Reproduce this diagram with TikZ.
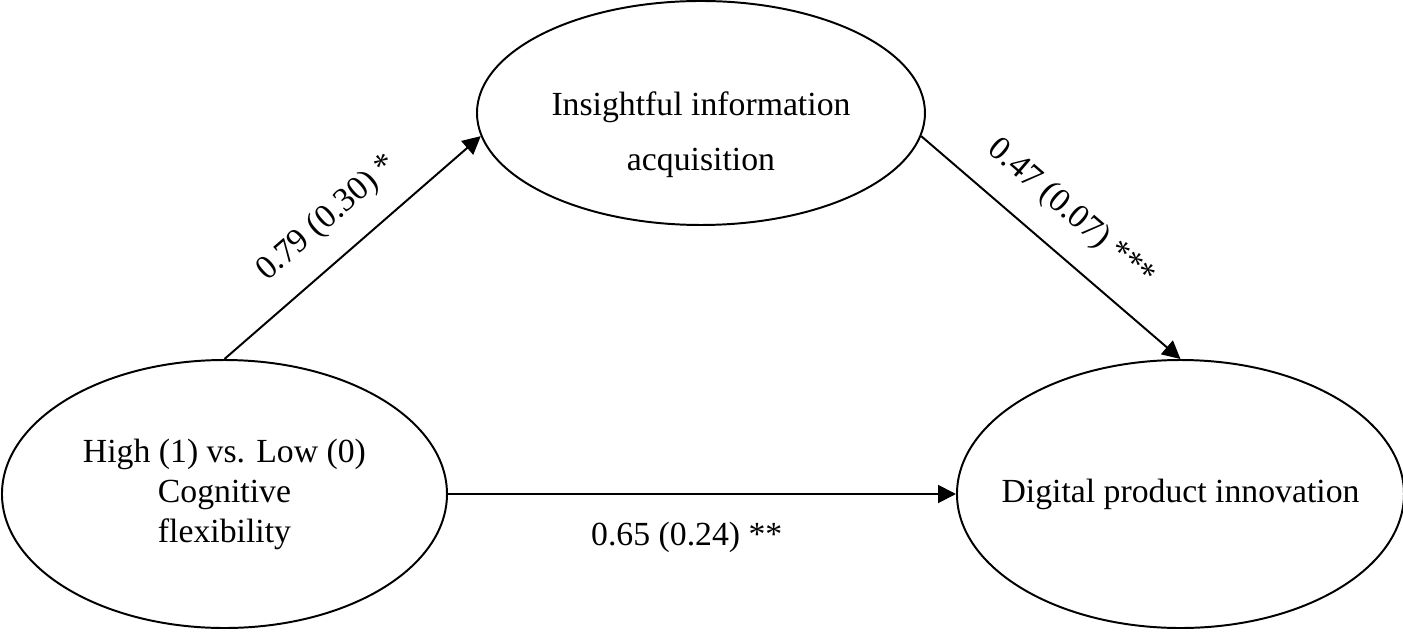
\documentclass[tikz,border=0pt]{standalone}
\usepackage{fontspec}
\setmainfont{Liberation Serif}
\usepackage{tikz}
\usetikzlibrary{shapes.geometric, arrows.meta, positioning}
\tikzstyle{construct} = [ellipse, draw, line width=0.7pt, minimum width=5.5625cm, minimum height=3.35cm, inner sep=0pt, align=center, font=\fontsize{12}{14.2}\selectfont]
\tikzstyle{effect} = [line width=0.7pt, -{Triangle[length=6.4pt, width=6.4pt]}]
\tikzstyle{coef} = [font=\fontsize{12}{14.2}\selectfont]

\begin{document}
\begin{tikzpicture}[node distance = 6.35cm]
  \useasboundingbox (-2.806,-1.7125) rectangle (14.731,6.175);
  \node (flex) [construct] at (0,0) {High (1) vs. Low (0)\\Cognitive\\flexibility};
  \node (dpi) [construct, minimum width=5.5875cm, inner xsep=-0.3cm, right= of flex] {Digital product innovation};
  \node (iia) [construct, minimum width=5.6cm, minimum height=2.8cm] at (5.956,4.7625) {\rule{0pt}{0.83cm}Insightful information\\[5.4pt]acquisition};
  % a path and b path via the mediator, c path direct
  \draw [effect] (flex.north) -- node[coef, midway, sloped, above=4.5pt] {0.79 (0.30) *} (iia.186);
  \draw [effect] (iia.354) -- node[coef, pos=0.48, sloped, above=4.7pt] {0.47 (0.07) ***} (dpi.north);
  \draw [effect] (flex.east) -- node[coef, pos=0.47, below=6.2pt] {0.65 (0.24) **} (dpi.west);
\end{tikzpicture}
\end{document}
